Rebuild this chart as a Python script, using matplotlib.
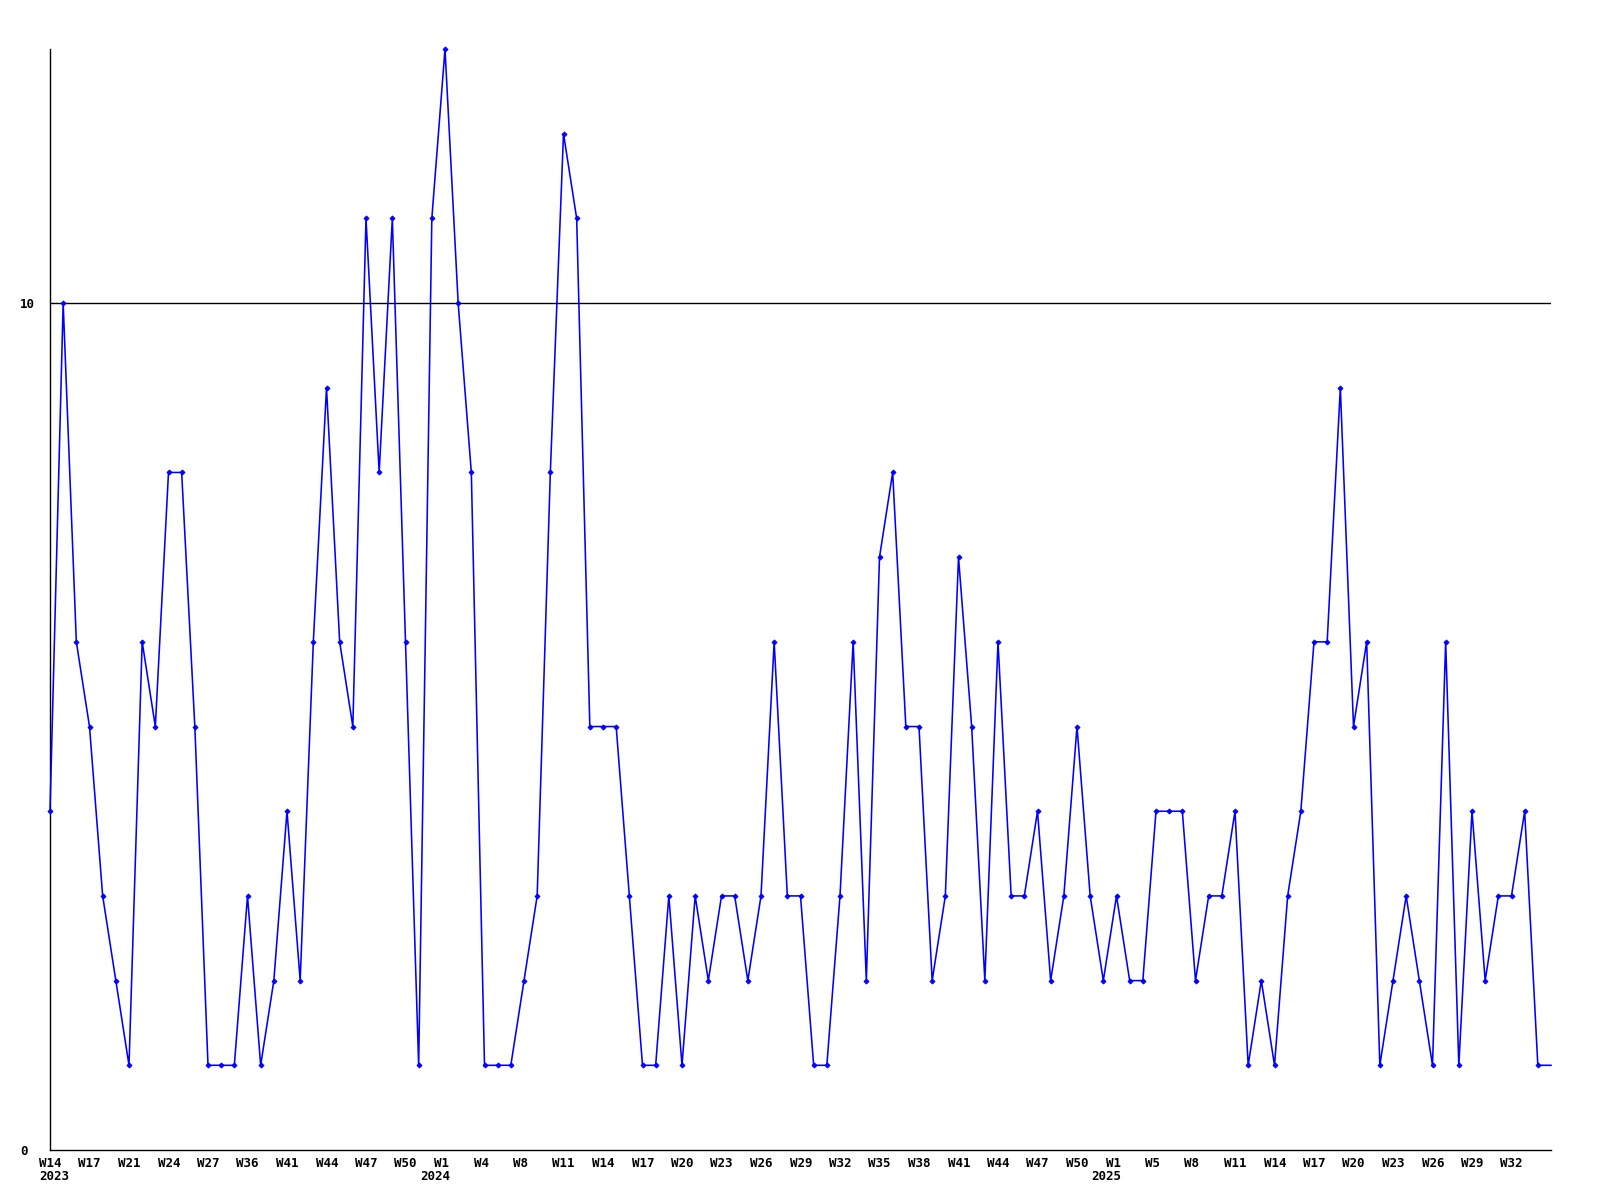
import matplotlib
matplotlib.use("Agg")
import matplotlib.pyplot as plt
from matplotlib.transforms import ScaledTranslation

# ---- data ----
values = [4, 10, 6, 5, 3, 2, 1, 6, 5, 8, 8, 5, 1, 1, 1, 3, 1, 2, 4, 2,
          6, 9, 6, 5, 11, 8, 11, 6, 1, 11, 13, 10, 8, 1, 1, 1, 2, 3, 8, 12,
          11, 5, 5, 5, 3, 1, 1, 3, 1, 3, 2, 3, 3, 2, 3, 6, 3, 3, 1, 1,
          3, 6, 2, 7, 8, 5, 5, 2, 3, 7, 5, 2, 6, 3, 3, 4, 2, 3, 5, 3,
          2, 3, 2, 2, 4, 4, 4, 2, 3, 3, 4, 1, 2, 1, 3, 4, 6, 6, 9, 5,
          6, 1, 2, 3, 2, 1, 6, 1, 4, 2, 3, 3, 4, 1, 1]
tick_labels = ["W14", "W17", "W21", "W24", "W27", "W36", "W41", "W44", "W47", "W50",
               "W1", "W4", "W8", "W11", "W14", "W17", "W20", "W23", "W26", "W29",
               "W32", "W35", "W38", "W41", "W44", "W47", "W50", "W1", "W5", "W8",
               "W11", "W14", "W17", "W20", "W23", "W26", "W29", "W32"]
tick_step = 3
year_labels = ["2023", "2024", "2025"]
year_positions = [0, 30, 81]
y_ticks = [0, 10]
y_max = 13

W, H = 1600, 1200
fig = plt.figure(figsize=(16, 12), dpi=100)
ax = fig.add_axes([50 / W, 50 / H, (1551 - 50) / W, (1150 - 49) / H])

n = len(values)
xs = list(range(n))
ax.plot(xs, values, color="#0000ff", lw=1.15, marker="D", markersize=2.6,
        markeredgewidth=0.6, markevery=list(range(n - 1)), clip_on=False,
        solid_joinstyle="miter", zorder=3)

ax.axhline(10, color="black", lw=1.0, zorder=1)

ax.set_xlim(0, n - 1)
ax.set_ylim(0, y_max)

for s in ["top", "right"]:
    ax.spines[s].set_visible(False)
for s in ["left", "bottom"]:
    ax.spines[s].set_color("black")
    ax.spines[s].set_linewidth(1.0)

font = dict(family="DejaVu Sans Mono", weight="bold", size=9)

tick_pos = list(range(0, n, tick_step))[:len(tick_labels)]
ax.set_xticks(tick_pos)
ax.set_xticklabels(tick_labels, **font)
ax.set_yticks(y_ticks)
ax.set_yticklabels([str(v) for v in y_ticks], **font)
ax.tick_params(axis="both", length=0)
ax.tick_params(axis="x", pad=5)
ax.tick_params(axis="y", pad=0)

xshift = ScaledTranslation(-11 / 100, 0, fig.dpi_scale_trans)
for lab in ax.get_xticklabels():
    lab.set_horizontalalignment("left")
    lab.set_transform(lab.get_transform() + xshift)

yshift = ScaledTranslation(-30 / 100, 0, fig.dpi_scale_trans)
for lab in ax.get_yticklabels():
    lab.set_horizontalalignment("left")
    lab.set_transform(lab.get_transform() + yshift)

year_dx = [-11, -25, -25]
for lbl, pos, dx in zip(year_labels, year_positions, year_dx):
    ax.annotate(lbl, xy=(pos, 0), xycoords="data", xytext=(dx, -27),
                textcoords="offset pixels", ha="left", va="center",
                annotation_clip=False, **font)

fig.savefig("out.png", dpi=100)
